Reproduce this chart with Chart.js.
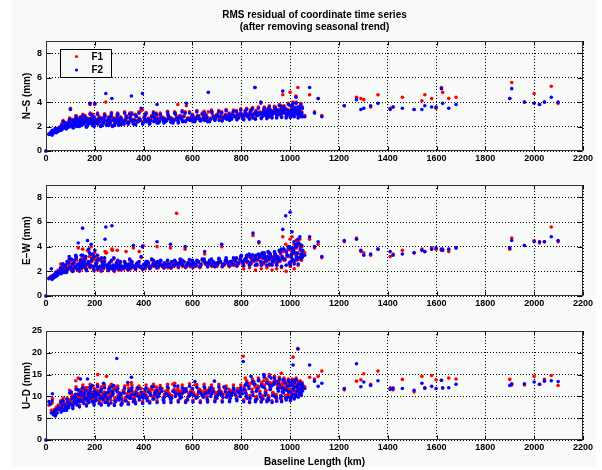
<!DOCTYPE html>
<html>
<head>
<meta charset="utf-8">
<script src="https://cdn.jsdelivr.net/npm/chart.js@4.4.1/dist/chart.umd.min.js"></script>
<style>
  html, body { margin: 0; padding: 0; background: #ffffff; }
  #fig { position: relative; width: 602px; height: 470px; overflow: hidden; }
  #bg { position: absolute; left: 12px; top: 0; width: 584px; height: 466px; background: #f7faf7; }
  .panel { position: absolute; left: 0; width: 602px; }
</style>
</head>
<body>
<div id="fig">
  <div id="bg"></div>
  <div class="panel" style="top:0;height:170px"><canvas id="nsChart"></canvas></div>
  <div class="panel" style="top:175px;height:140px"><canvas id="ewChart"></canvas></div>
  <div class="panel" style="top:321px;height:149px"><canvas id="udChart"></canvas></div>
</div>
<script>
// 基线长度 (km)
const baselineKm = [0,
    12, 18, 22, 26, 30, 34, 38, 42, 46, 50,
    55, 60, 64, 68, 72, 77, 82, 86, 90, 95,
    100, 104, 108, 113, 118, 122, 127, 132, 136, 141,
    146, 150, 155, 160, 165, 170, 175, 180, 185, 190,
    195, 200, 206, 212, 218, 224, 230, 236, 242, 248,
    254, 260, 266, 272, 278, 285, 292, 298, 305, 312,
    320, 328, 335, 343, 350, 358, 366, 374, 382, 390,
    398, 406, 415, 424, 433, 442, 451, 460, 470, 480,
    490, 500, 510, 520, 530, 540, 550, 560, 570, 580,
    590, 600, 610, 620, 630, 640, 650, 660, 670, 680,
    690, 700, 710, 720, 730, 740, 750, 760, 770, 780,
    790, 800, 808, 816, 824, 832, 840, 848, 856, 864,
    872, 880, 886, 892, 898, 904, 910, 916, 922, 928,
    934, 940, 946, 952, 958, 964, 970, 976, 982, 988,
    994, 1000, 1004, 1008, 1012, 1016, 1020, 1024, 1028, 1032,
    1036, 1040, 1044, 1048, 1050, 1052, 25, 40, 130, 175,
    215, 245, 270, 290, 350, 395, 455, 535, 575, 665,
    1060, 1080, 1100, 1115, 1130, 1222, 1272, 1290, 1302, 1330,
    1360, 1410, 1422, 1460, 1508, 1540, 1552, 1580, 1598, 1620,
    1625, 1650, 1680, 1900, 1908, 1960, 2000, 2022, 2042, 2070,
    2098,
    58, 66, 74, 80, 88, 93, 98, 106, 111, 116,
    120, 125, 134, 139, 144, 148, 153, 158, 163, 168,
    173, 178, 183, 188, 193, 198, 203, 209, 221, 227,
    233, 239, 251, 257, 263, 275, 282, 288, 295, 302,
    309, 316, 324, 332, 339, 347, 354, 362, 370, 378,
    386, 402, 411, 420, 429, 438, 447, 456, 465, 475,
    485, 495, 505, 515, 525, 545, 555, 565, 585, 595,
    605, 615, 625, 635, 645, 655, 675, 685, 695, 705,
    715, 725, 735, 745, 755, 765, 775, 785, 795, 804,
    812, 820, 828, 836, 844, 852, 860, 868, 876, 883,
    889, 895, 901, 907, 913, 919, 925, 931, 937, 943,
    949, 955, 961, 967, 973, 979, 985, 991, 997, 1002,
    1006, 1010, 1014, 1018, 1022, 1026, 1030, 1034, 1038, 1042,
    62, 70, 84, 97, 110, 123, 137, 151, 166, 181,
    197, 211, 226, 240, 256, 268, 280, 294, 308, 322,
    337, 352, 367, 381, 396, 410, 425, 440, 455, 468,
    483, 498, 512, 527, 542, 558, 572, 588, 602, 618,
    632, 648, 662, 678, 692, 708, 722, 738, 752, 768,
    782, 798, 810, 822, 834, 846, 858, 870, 882, 894,
    905, 915, 926, 936, 945, 956, 965, 975, 984, 993,
    1001, 1009, 1017, 1025, 1033, 1041, 1046, 1049, 1003, 1011,
    143, 157, 186, 205, 235, 262, 300, 345, 405, 445,
    502, 548, 598, 652, 702, 758, 818, 862, 918, 968];

// N-S 分量 RMS (mm)
const nsF1 = [0,
    1.4, 1.45, 1.5, 1.65, 1.55, 1.7, 1.8, 1.6, 1.85, 1.7,
    1.95, 1.8, 2.2, 1.9, 2.1, 2.35, 2.0, 2.3, 2.1, 2.5,
    3.5, 2.2, 2.6, 2.0, 2.4, 2.7, 2.1, 2.5, 2.3, 2.8,
    2.2, 2.6, 2.4, 2.9, 2.1, 2.7, 2.3, 3.8, 2.5, 3.0,
    2.2, 3.8, 2.6, 2.3, 2.8, 2.1, 2.7, 2.4, 2.9, 2.2,
    2.6, 2.3, 2.9, 2.1, 2.7, 2.4, 3.0, 2.2, 2.8, 2.5,
    2.3, 2.9, 2.4, 3.1, 2.6, 2.3, 3.0, 2.5, 2.7, 3.3,
    2.4, 3.0, 2.6, 2.3, 2.9, 2.5, 3.1, 2.4, 2.8, 2.6,
    2.5, 3.0, 2.7, 2.4, 3.1, 3.8, 2.9, 2.5, 3.2, 2.7,
    2.6, 3.0, 2.5, 2.9, 2.7, 3.1, 2.6, 2.8, 2.5, 3.2,
    2.7, 3.0, 2.6, 3.2, 2.8, 2.7, 3.1, 2.7, 2.9, 3.3,
    2.8, 3.1, 2.7, 3.3, 2.9, 3.0, 3.4, 2.8, 5.2, 3.0,
    3.1, 3.9, 2.9, 3.4, 3.0, 3.2, 3.5, 2.9, 3.3, 3.1,
    3.2, 3.6, 3.0, 3.4, 3.1, 3.7, 4.6, 3.2, 3.5, 3.0,
    3.3, 4.8, 2.9, 3.5, 4.0, 3.1, 3.6, 4.5, 3.2, 5.2,
    3.4, 3.0, 3.9, 3.2, 3.6, 2.9, 1.35, 1.6, 2.7, 2.4,
    2.5, 4.0, 2.8, 2.7, 3.1, 3.4, 2.9, 2.8, 3.7, 3.2,
    2.9, 4.6, 3.2, 4.3, 2.9, 3.7, 4.4, 4.3, 4.2, 3.6,
    4.6, 3.5, 3.6, 4.4, 3.4, 4.1, 4.6, 4.3, 3.5, 5.2,
    4.8, 4.3, 4.4, 4.3, 5.6, 4.0, 4.7, 3.8, 4.0, 5.3,
    3.9,
    1.9, 2.1, 2.0, 2.3, 2.2, 2.05, 2.4, 2.1, 2.3, 2.5,
    2.2, 2.4, 2.6, 2.3, 2.5, 2.7, 2.3, 2.6, 2.6, 2.4,
    2.6, 2.4, 2.7, 2.3, 2.5, 2.8, 2.4, 2.6, 2.5, 2.7,
    2.3, 2.6, 2.5, 2.8, 2.4, 2.6, 2.5, 2.7, 2.4, 2.6,
    2.7, 2.5, 2.6, 2.8, 2.4, 2.7, 2.5, 2.6, 2.9, 2.5,
    2.6, 2.8, 2.5, 2.7, 2.6, 2.9, 2.6, 2.7, 2.5, 2.8,
    2.7, 2.6, 2.8, 2.7, 2.6, 2.8, 2.7, 2.9, 2.7, 2.8,
    2.8, 2.7, 2.9, 2.6, 2.8, 3.0, 2.7, 2.9, 2.8, 2.9,
    2.9, 2.8, 3.0, 2.9, 2.8, 3.1, 2.9, 3.0, 3.1, 2.9,
    3.0, 3.1, 2.9, 3.2, 3.0, 3.1, 3.3, 3.0, 3.2, 3.1,
    3.2, 3.1, 3.3, 3.0, 3.2, 3.4, 3.1, 3.3, 3.2, 3.4,
    3.3, 3.1, 3.4, 3.2, 3.3, 3.5, 3.1, 3.4, 3.2, 3.3,
    3.4, 3.1, 3.3, 3.5, 3.2, 3.4, 3.1, 3.3, 3.5, 3.2,
    1.8, 2.5, 1.9, 2.7, 2.0, 2.9, 2.1, 3.0, 2.05, 3.1,
    2.1, 3.1, 2.15, 3.05, 2.2, 3.15, 2.2, 3.1, 2.25, 3.2,
    2.3, 3.1, 2.25, 3.2, 2.3, 3.15, 2.35, 3.2, 2.4, 3.1,
    2.4, 3.25, 2.45, 3.2, 2.4, 3.3, 2.5, 3.2, 2.5, 3.3,
    2.55, 3.25, 2.5, 3.35, 2.6, 3.3, 2.55, 3.4, 2.6, 3.35,
    2.65, 3.45, 2.65, 3.5, 2.7, 3.55, 2.7, 3.6, 2.75, 3.6,
    2.75, 3.7, 2.8, 3.65, 2.8, 3.8, 2.85, 3.7, 2.8, 3.9,
    2.85, 3.8, 2.9, 4.0, 2.8, 3.7, 2.9, 3.6, 3.1, 3.4,
    2.5, 2.6, 2.7, 2.5, 2.7, 2.6, 2.7, 2.8, 2.7, 2.8,
    2.8, 2.9, 2.8, 2.9, 3.0, 3.0, 3.1, 3.2, 3.3, 3.4];
const nsF2 = [0,
    1.35, 1.5, 1.4, 1.7, 1.45, 1.6, 1.85, 1.5, 1.75, 1.6,
    1.9, 1.7, 2.1, 1.8, 2.0, 2.3, 1.85, 2.2, 2.0, 2.4,
    3.4, 2.1, 2.5, 1.9, 2.3, 2.6, 2.0, 2.4, 2.2, 2.7,
    2.1, 2.5, 2.3, 2.8, 2.0, 2.6, 2.2, 3.9, 2.4, 2.9,
    2.1, 3.9, 2.5, 2.2, 2.7, 2.0, 2.6, 2.3, 2.8, 2.1,
    2.5, 2.2, 2.8, 2.0, 2.6, 2.3, 2.9, 2.1, 2.7, 2.4,
    2.2, 2.8, 2.3, 3.0, 2.5, 2.2, 2.9, 2.4, 2.6, 3.5,
    2.3, 2.9, 2.5, 2.2, 2.8, 2.4, 3.0, 2.3, 2.7, 2.5,
    2.4, 2.9, 2.6, 2.3, 3.0, 2.5, 2.8, 2.4, 3.1, 2.6,
    2.5, 2.9, 2.4, 2.8, 2.6, 3.0, 2.5, 2.7, 2.4, 3.1,
    2.6, 2.9, 2.5, 3.1, 2.7, 2.6, 3.0, 2.6, 2.8, 3.2,
    2.7, 3.0, 2.6, 3.2, 2.8, 2.9, 3.3, 2.7, 5.2, 2.9,
    3.0, 4.0, 2.8, 3.3, 2.9, 3.1, 3.4, 2.8, 3.2, 3.0,
    3.1, 3.5, 2.9, 3.3, 3.0, 3.6, 4.9, 3.1, 3.4, 2.9,
    3.2, 3.7, 2.8, 3.4, 3.9, 3.0, 3.5, 4.4, 3.1, 3.6,
    3.3, 2.9, 3.8, 3.1, 3.5, 2.8, 1.3, 1.55, 2.6, 2.3,
    2.4, 4.7, 4.3, 2.6, 4.5, 4.7, 3.8, 2.7, 3.9, 4.8,
    2.8, 5.2, 3.1, 4.3, 2.8, 3.7, 4.2, 3.4, 3.5, 3.7,
    3.9, 3.4, 3.6, 3.5, 3.4, 3.4, 3.7, 3.6, 3.6, 5.1,
    3.9, 3.5, 3.8, 4.3, 5.1, 4.0, 3.9, 3.8, 4.0, 4.4,
    4.0,
    1.8, 2.0, 1.9, 2.2, 2.1, 1.95, 2.3, 2.0, 2.2, 2.4,
    2.1, 2.3, 2.5, 2.2, 2.4, 2.6, 2.2, 2.4, 2.5, 2.3,
    2.5, 2.3, 2.6, 2.2, 2.4, 2.7, 2.3, 2.5, 2.4, 2.6,
    2.2, 2.5, 2.4, 2.7, 2.3, 2.5, 2.4, 2.6, 2.3, 2.5,
    2.6, 2.4, 2.5, 2.7, 2.3, 2.6, 2.4, 2.5, 2.8, 2.4,
    2.5, 2.7, 2.4, 2.6, 2.5, 2.8, 2.5, 2.6, 2.4, 2.7,
    2.6, 2.5, 2.7, 2.6, 2.5, 2.7, 2.6, 2.8, 2.6, 2.7,
    2.7, 2.6, 2.8, 2.5, 2.7, 2.9, 2.6, 2.8, 2.7, 2.8,
    2.8, 2.7, 2.9, 2.8, 2.7, 3.0, 2.8, 2.9, 3.0, 2.8,
    2.9, 3.0, 2.8, 3.1, 2.9, 3.0, 3.2, 2.9, 3.1, 3.0,
    3.1, 3.0, 3.2, 2.9, 3.1, 3.3, 3.0, 3.2, 3.1, 3.3,
    3.2, 3.0, 3.3, 3.1, 3.2, 3.4, 3.0, 3.3, 3.1, 3.2,
    3.3, 3.0, 3.2, 3.4, 3.1, 3.3, 3.0, 3.2, 3.4, 3.1,
    1.7, 2.4, 1.8, 2.6, 1.9, 2.8, 2.0, 2.9, 1.95, 3.0,
    2.0, 3.0, 2.05, 2.95, 2.1, 3.05, 2.1, 3.0, 2.15, 3.1,
    2.2, 3.0, 2.15, 3.1, 2.2, 3.05, 2.25, 3.1, 2.3, 3.0,
    2.3, 3.15, 2.35, 3.1, 2.3, 3.2, 2.4, 3.1, 2.4, 3.2,
    2.45, 3.15, 2.4, 3.25, 2.5, 3.2, 2.45, 3.3, 2.5, 3.25,
    2.55, 3.35, 2.55, 3.4, 2.6, 3.45, 2.6, 3.5, 2.65, 3.5,
    2.65, 3.6, 2.7, 3.55, 2.7, 3.7, 2.75, 3.6, 2.7, 3.8,
    2.75, 3.7, 2.8, 3.9, 2.7, 3.6, 2.8, 3.5, 3.0, 3.3,
    2.4, 2.5, 2.6, 2.4, 2.6, 2.5, 2.6, 2.7, 2.6, 2.7,
    2.7, 2.8, 2.7, 2.8, 2.9, 2.9, 3.0, 3.1, 3.2, 3.3];

// E-W 分量 RMS (mm)
const ewF1 = [0,
    1.45, 1.55, 1.6, 1.65, 1.5, 1.75, 1.6, 1.85, 1.7, 2.1,
    1.85, 2.6, 1.95, 2.5, 2.05, 2.3, 2.15, 2.6, 2.25, 3.0,
    2.2, 2.9, 2.0, 2.6, 2.3, 3.1, 2.1, 3.9, 2.4, 2.8,
    2.2, 3.8, 2.5, 3.0, 2.1, 3.7, 2.6, 2.3, 4.0, 3.2,
    2.2, 3.5, 2.4, 2.1, 2.9, 2.3, 2.7, 2.2, 3.6, 3.5,
    2.1, 2.6, 2.3, 3.7, 3.0, 2.2, 3.7, 2.1, 2.7, 2.3,
    2.2, 3.6, 2.1, 2.9, 2.3, 3.9, 2.2, 2.6, 3.6, 3.1,
    4.1, 2.2, 2.7, 2.3, 2.9, 2.4, 2.6, 2.3, 2.8, 2.4,
    2.5, 2.3, 3.9, 2.4, 2.7, 2.5, 2.9, 2.4, 3.8, 2.6,
    2.4, 2.8, 2.5, 2.7, 2.3, 2.9, 3.4, 2.5, 2.8, 2.4,
    2.6, 2.4, 2.9, 4.0, 2.5, 2.8, 2.4, 2.7, 2.5, 3.0,
    2.6, 3.2, 2.5, 2.9, 2.7, 3.3, 2.6, 4.9, 3.1, 2.5,
    4.3, 2.7, 3.4, 2.6, 3.0, 2.8, 3.5, 2.5, 3.1, 2.7,
    2.9, 3.3, 2.6, 3.0, 2.8, 3.7, 4.8, 2.9, 4.2, 3.2,
    3.9, 4.6, 3.1, 4.8, 2.8, 4.2, 3.4, 4.5, 2.9, 4.4,
    3.0, 4.6, 3.3, 4.0, 3.1, 3.6, 1.4, 1.95, 2.5, 3.6,
    2.2, 3.5, 3.8, 2.4, 2.7, 4.0, 4.0, 6.7, 2.4, 2.6,
    3.5, 4.6, 3.9, 4.2, 3.1, 4.4, 4.7, 3.6, 3.5, 3.3,
    3.8, 3.2, 3.4, 3.7, 3.5, 3.8, 3.6, 3.9, 3.8, 3.7,
    3.8, 3.6, 3.9, 3.8, 4.7, 4.1, 4.5, 4.3, 4.4, 5.6,
    4.4,
    2.1, 2.1, 2.0, 2.4, 2.2, 2.5, 2.2, 2.5, 2.3, 2.7,
    2.3, 2.9, 2.5, 2.2, 3.0, 2.4, 2.7, 2.3, 3.0, 2.5,
    2.6, 3.2, 2.4, 2.8, 2.3, 3.0, 2.5, 2.7, 2.3, 2.9,
    2.4, 2.7, 2.3, 2.5, 2.2, 2.4, 2.3, 2.6, 2.2, 2.4,
    2.3, 2.2, 2.4, 2.3, 2.5, 2.2, 2.4, 2.3, 2.5, 2.4,
    2.3, 2.5, 2.4, 2.6, 2.3, 2.5, 2.4, 2.7, 2.5, 2.4,
    2.6, 2.4, 2.5, 2.7, 2.4, 2.6, 2.5, 2.7, 2.6, 2.5,
    2.6, 2.4, 2.7, 2.5, 2.8, 2.6, 2.5, 2.7, 2.4, 2.6,
    2.7, 2.5, 2.8, 2.6, 2.7, 2.5, 2.8, 2.6, 2.9, 2.7,
    2.8, 3.0, 2.7, 3.1, 2.9, 2.8, 3.2, 2.9, 3.1, 3.3,
    3.0, 3.2, 2.8, 3.1, 2.9, 3.3, 3.0, 2.7, 3.2, 2.9,
    3.1, 2.8, 3.4, 3.0, 3.6, 2.9, 3.5, 3.2, 2.6, 3.7,
    3.3, 2.9, 3.6, 2.8, 3.9, 3.1, 3.4, 4.1, 3.0, 3.7,
    1.85, 2.5, 1.95, 2.8, 2.05, 3.0, 2.0, 3.1, 2.05, 3.2,
    2.05, 3.1, 2.0, 2.9, 2.05, 2.8, 2.0, 2.8, 2.1, 2.7,
    2.1, 2.7, 2.15, 2.7, 2.15, 2.7, 2.2, 2.8, 2.25, 2.75,
    2.25, 2.8, 2.25, 2.8, 2.3, 2.8, 2.3, 2.85, 2.3, 2.8,
    2.35, 2.9, 2.35, 2.9, 2.35, 2.95, 2.35, 3.0, 2.4, 3.0,
    2.4, 3.1, 2.2, 3.2, 2.3, 3.25, 2.1, 3.3, 2.2, 3.4,
    2.3, 3.4, 2.1, 3.5, 2.2, 3.6, 2.3, 3.7, 2.0, 3.8,
    2.4, 3.8, 2.2, 3.9, 2.5, 4.0, 2.9, 3.3, 2.7, 3.5,
    2.6, 2.7, 2.8, 2.6, 2.5, 2.3, 2.3, 2.4, 2.4, 2.5,
    2.5, 2.6, 2.5, 2.6, 2.6, 2.7, 2.8, 2.9, 3.0, 3.1];
const ewF2 = [0,
    1.4, 1.5, 2.2, 1.6, 1.45, 1.7, 1.55, 1.8, 1.65, 2.0,
    1.8, 2.3, 1.9, 2.6, 2.0, 2.4, 2.1, 2.8, 2.2, 3.2,
    2.3, 3.0, 2.1, 2.7, 2.4, 3.3, 2.2, 4.3, 2.5, 2.9,
    2.3, 5.5, 2.6, 3.1, 2.2, 4.5, 2.7, 2.4, 4.2, 3.4,
    2.3, 3.7, 2.5, 2.2, 3.0, 2.4, 2.8, 2.3, 4.6, 2.5,
    2.2, 2.7, 2.4, 2.2, 3.1, 2.3, 2.6, 2.2, 2.8, 2.4,
    2.3, 2.6, 2.2, 3.0, 2.4, 4.1, 2.3, 2.7, 2.4, 3.2,
    2.5, 2.3, 2.8, 2.4, 3.0, 2.5, 2.7, 2.4, 2.9, 2.5,
    2.6, 2.4, 4.2, 2.5, 2.8, 2.6, 3.0, 2.5, 4.0, 2.7,
    2.5, 2.9, 2.6, 2.8, 2.4, 3.0, 3.6, 2.6, 2.9, 2.5,
    2.7, 2.5, 3.0, 4.2, 2.6, 2.9, 2.5, 2.8, 2.6, 3.1,
    2.7, 3.3, 2.6, 3.0, 2.8, 3.4, 2.7, 5.1, 3.2, 2.6,
    4.4, 2.8, 3.5, 2.7, 3.1, 2.9, 3.6, 2.6, 3.2, 2.8,
    3.0, 3.4, 2.7, 3.1, 2.9, 3.8, 5.4, 3.0, 6.5, 3.3,
    4.0, 6.8, 3.2, 5.2, 2.9, 4.4, 3.5, 4.2, 3.0, 4.6,
    3.1, 4.8, 3.4, 4.1, 3.2, 3.7, 1.35, 1.9, 2.6, 3.8,
    2.3, 5.6, 5.7, 2.5, 2.8, 4.0, 4.4, 2.6, 2.5, 2.7,
    3.3, 4.8, 4.0, 4.4, 3.2, 4.5, 4.6, 3.7, 3.3, 3.4,
    3.8, 3.6, 3.3, 3.4, 3.5, 3.7, 3.6, 3.8, 3.9, 3.8,
    3.7, 3.8, 3.9, 3.9, 4.5, 4.1, 4.4, 4.4, 4.4, 4.8,
    4.5,
    2.0, 2.2, 1.9, 2.5, 2.1, 2.7, 2.3, 2.6, 2.2, 2.9,
    2.4, 3.1, 2.6, 2.3, 3.3, 2.5, 2.9, 2.4, 3.2, 2.6,
    2.8, 3.5, 2.5, 3.0, 2.4, 3.2, 2.6, 2.9, 2.4, 3.1,
    2.5, 2.8, 2.4, 2.6, 2.3, 2.5, 2.4, 2.7, 2.3, 2.5,
    2.4, 2.3, 2.5, 2.4, 2.6, 2.3, 2.5, 2.4, 2.6, 2.5,
    2.4, 2.6, 2.5, 2.7, 2.4, 2.6, 2.5, 2.8, 2.6, 2.5,
    2.7, 2.5, 2.6, 2.8, 2.5, 2.7, 2.6, 2.8, 2.7, 2.6,
    2.7, 2.5, 2.8, 2.6, 2.9, 2.7, 2.6, 2.8, 2.5, 2.7,
    2.8, 2.6, 2.9, 2.7, 2.8, 2.6, 2.9, 2.7, 3.0, 2.8,
    2.9, 3.1, 2.8, 3.2, 3.0, 2.9, 3.3, 3.0, 3.2, 3.4,
    3.1, 3.3, 2.9, 3.2, 3.0, 3.4, 3.1, 2.8, 3.3, 3.0,
    3.2, 2.9, 3.5, 3.1, 3.8, 3.0, 3.6, 3.3, 2.7, 3.9,
    3.4, 3.0, 3.7, 2.9, 4.0, 3.2, 3.5, 4.3, 3.1, 3.8,
    1.8, 2.6, 1.9, 3.0, 2.0, 3.2, 2.05, 3.3, 2.1, 3.4,
    2.1, 3.3, 2.1, 3.1, 2.1, 2.9, 2.1, 2.9, 2.15, 2.8,
    2.15, 2.8, 2.2, 2.8, 2.2, 2.8, 2.25, 2.9, 2.3, 2.85,
    2.3, 2.9, 2.3, 2.9, 2.35, 2.9, 2.35, 2.95, 2.35, 2.9,
    2.4, 3.0, 2.4, 3.0, 2.4, 3.05, 2.4, 3.1, 2.45, 3.1,
    2.45, 3.2, 2.45, 3.3, 2.5, 3.35, 2.5, 3.4, 2.5, 3.5,
    2.5, 3.5, 2.5, 3.6, 2.5, 3.7, 2.4, 3.8, 2.5, 3.9,
    2.5, 3.9, 2.6, 4.0, 2.6, 4.2, 3.0, 3.4, 2.8, 3.6,
    2.7, 2.8, 2.9, 2.7, 2.6, 2.4, 2.4, 2.5, 2.5, 2.6,
    2.6, 2.7, 2.6, 2.7, 2.7, 2.8, 2.9, 3.0, 3.1, 3.2];

// U-D 分量 RMS (mm)
const udF1 = [0,
    8.0, 8.5, 6.8, 9.5, 6.5, 7.0, 6.2, 7.5, 6.8, 8.0,
    7.5, 9.0, 7.8, 8.6, 7.4, 8.5, 8.0, 9.6, 8.3, 9.2,
    8.8, 10.5, 8.4, 10.2, 9.0, 13.6, 8.6, 14.2, 9.4, 11.0,
    9.6, 11.5, 9.0, 11.4, 10.0, 12.0, 9.2, 11.8, 10.4, 12.2,
    9.4, 11.0, 9.8, 15.0, 9.0, 11.6, 10.2, 12.6, 9.2, 14.6,
    10.0, 12.2, 9.1, 10.8, 11.8, 9.4, 11.6, 9.8, 10.2, 9.0,
    11.4, 9.6, 12.6, 10.2, 11.8, 9.4, 11.0, 11.6, 9.8, 11.8,
    10.2, 11.0, 9.6, 11.4, 11.6, 10.0, 12.2, 10.6, 11.2, 9.8,
    11.2, 11.6, 10.0, 12.8, 10.6, 11.8, 10.2, 11.4, 11.0, 9.8,
    11.0, 11.2, 12.6, 10.4, 11.6, 10.8, 11.4, 10.0, 12.0, 11.2,
    11.0, 10.2, 11.8, 11.0, 12.0, 10.4, 11.6, 10.8, 11.0, 10.0,
    11.4, 10.8, 19.2, 14.2, 10.2, 12.4, 13.0, 10.8, 12.2, 10.0,
    12.2, 10.4, 12.8, 13.6, 11.0, 14.0, 10.2, 13.2, 12.6, 10.8,
    13.4, 10.4, 12.8, 11.8, 12.6, 15.3, 13.2, 12.2, 10.2, 13.0,
    11.6, 12.6, 10.4, 13.2, 19.0, 12.0, 13.0, 11.0, 12.8, 20.8,
    12.4, 12.4, 11.2, 13.0, 11.8, 12.6, 8.5, 6.5, 9.8, 10.6,
    11.0, 10.4, 10.6, 12.0, 13.2, 10.8, 12.0, 11.2, 11.8, 11.4,
    12.2, 14.4, 14.0, 14.6, 15.8, 11.5, 13.5, 13.8, 15.2, 12.8,
    15.8, 12.0, 11.5, 13.9, 11.0, 14.6, 11.8, 14.8, 13.8, 13.7,
    12.0, 14.2, 14.0, 13.9, 12.6, 12.6, 14.6, 12.8, 13.9, 14.8,
    12.5,
    7.8, 8.4, 7.4, 8.2, 9.2, 8.0, 8.8, 9.8, 8.6, 9.6,
    10.4, 9.2, 11.0, 9.8, 11.6, 9.4, 10.8, 10.2, 12.0, 9.6,
    11.2, 10.0, 12.4, 9.4, 10.6, 11.8, 9.6, 11.4, 10.2, 12.2,
    9.8, 11.0, 9.2, 11.6, 10.4, 11.2, 9.6, 12.0, 10.2, 10.8,
    10.0, 11.4, 9.6, 10.6, 11.8, 10.2, 11.0, 9.8, 11.4, 10.6,
    10.4, 11.0, 10.2, 11.6, 10.8, 10.0, 11.4, 10.4, 11.2, 11.8,
    10.4, 11.2, 10.6, 10.2, 11.6, 11.0, 10.4, 11.8, 10.6, 11.4,
    10.8, 10.2, 11.6, 11.2, 10.4, 11.4, 10.6, 11.8, 10.4, 11.0,
    11.2, 10.4, 11.6, 10.8, 10.2, 11.4, 11.0, 11.8, 10.6, 11.2,
    12.2, 10.6, 13.0, 10.2, 11.6, 13.4, 9.8, 12.4, 11.2, 13.2,
    10.0, 12.6, 11.4, 13.6, 9.8, 12.2, 13.0, 10.8, 13.8, 10.4,
    12.4, 13.4, 10.2, 12.6, 11.4, 13.6, 12.0, 10.4, 13.0, 11.6,
    13.2, 11.0, 12.4, 13.8, 10.6, 12.8, 11.8, 13.4, 11.2, 12.2,
    6.8, 9.6, 7.2, 11.4, 7.6, 12.2, 8.0, 12.6, 8.2, 12.8,
    8.4, 12.8, 8.4, 12.6, 8.4, 12.8, 8.3, 12.4, 8.4, 12.4,
    8.6, 12.6, 8.7, 12.4, 8.8, 12.6, 8.9, 12.8, 9.0, 12.5,
    9.0, 12.8, 9.0, 13.0, 9.1, 12.6, 9.0, 12.9, 9.1, 12.7,
    9.0, 12.8, 9.1, 12.6, 9.2, 12.8, 9.1, 12.4, 9.2, 12.6,
    9.4, 12.6, 9.2, 13.6, 9.0, 14.0, 9.2, 14.2, 9.1, 14.8,
    9.2, 15.0, 9.0, 14.6, 9.3, 14.4, 9.2, 14.2, 9.6, 14.0,
    9.4, 14.0, 9.8, 14.2, 10.2, 13.6, 10.6, 13.2, 10.0, 12.8,
    10.8, 11.2, 11.0, 10.6, 10.8, 10.4, 10.2, 10.6, 10.8, 11.0,
    10.8, 11.2, 11.0, 11.2, 10.8, 11.2, 11.4, 11.8, 12.2, 11.6];
const udF2 = [0,
    8.8, 8.2, 6.2, 10.6, 5.8, 6.5, 5.5, 7.0, 6.2, 7.5,
    7.0, 8.6, 7.2, 9.0, 6.8, 8.0, 7.4, 9.3, 7.8, 8.5,
    8.2, 11.0, 7.8, 9.8, 8.5, 10.5, 8.0, 11.5, 8.8, 14.0,
    9.0, 12.0, 8.4, 10.8, 9.5, 14.0, 8.6, 11.2, 9.8, 12.5,
    8.8, 10.5, 9.2, 12.2, 8.4, 11.0, 9.6, 13.0, 8.6, 10.8,
    9.4, 11.8, 8.5, 10.2, 12.5, 8.8, 11.0, 9.2, 10.6, 8.4,
    10.8, 9.0, 13.2, 9.6, 11.4, 8.8, 10.4, 12.0, 9.2, 11.0,
    9.6, 11.5, 9.0, 10.8, 12.2, 9.4, 11.0, 10.0, 11.8, 9.2,
    10.6, 12.0, 9.4, 11.2, 10.0, 12.4, 9.6, 10.8, 11.6, 9.2,
    10.4, 11.8, 13.4, 9.8, 11.0, 10.2, 12.0, 9.4, 11.4, 10.6,
    13.5, 9.6, 11.2, 10.4, 12.2, 9.8, 11.0, 10.2, 11.6, 9.4,
    10.8, 11.4, 18.0, 12.6, 9.6, 11.8, 14.6, 10.2, 12.8, 9.4,
    13.8, 9.8, 12.2, 15.0, 10.4, 13.2, 9.6, 12.6, 14.2, 10.2,
    12.8, 9.8, 13.4, 11.2, 12.0, 10.0, 13.8, 11.6, 9.6, 12.4,
    11.0, 13.2, 9.8, 12.6, 17.2, 11.4, 13.6, 10.4, 12.2, 21.0,
    11.8, 13.0, 10.6, 12.4, 11.2, 12.0, 9.0, 5.8, 9.2, 10.0,
    10.4, 9.8, 11.2, 18.7, 14.4, 10.2, 11.4, 10.6, 11.2, 10.8,
    11.8, 17.2, 13.5, 12.3, 13.0, 11.8, 17.5, 12.2, 13.3, 12.5,
    13.6, 11.6, 11.9, 11.8, 11.4, 13.0, 12.0, 12.3, 11.8, 13.7,
    11.9, 12.0, 12.8, 12.5, 12.9, 12.9, 13.3, 12.8, 13.5, 13.6,
    13.4,
    7.2, 8.0, 6.8, 7.6, 8.8, 7.4, 8.2, 9.4, 8.0, 9.0,
    9.8, 8.6, 10.4, 9.2, 11.0, 8.8, 10.2, 9.6, 11.4, 9.0,
    10.6, 9.4, 11.8, 8.8, 10.0, 11.2, 9.0, 10.8, 9.6, 11.6,
    9.2, 10.4, 8.6, 11.0, 9.8, 10.6, 9.0, 11.4, 9.6, 10.2,
    9.4, 10.8, 9.0, 10.0, 11.2, 9.6, 10.4, 9.2, 10.8, 10.0,
    9.8, 10.4, 9.6, 11.0, 10.2, 9.4, 10.8, 9.8, 10.6, 11.2,
    9.8, 10.6, 10.0, 9.6, 11.0, 10.4, 9.8, 11.2, 10.0, 10.8,
    10.2, 9.6, 11.0, 10.6, 9.8, 10.8, 10.0, 11.2, 9.8, 10.4,
    10.6, 9.8, 11.0, 10.2, 9.6, 10.8, 10.4, 11.2, 10.0, 10.6,
    11.6, 10.0, 12.4, 9.6, 11.0, 12.8, 9.2, 11.8, 10.6, 12.6,
    9.4, 12.0, 10.8, 13.0, 9.2, 11.6, 12.4, 10.2, 13.2, 9.8,
    11.8, 12.8, 9.6, 12.0, 10.8, 13.0, 11.4, 9.8, 12.4, 11.0,
    12.6, 10.4, 11.8, 13.2, 10.0, 12.2, 11.2, 12.8, 10.6, 11.6,
    6.4, 9.0, 6.8, 10.8, 7.2, 11.6, 7.6, 12.0, 7.8, 12.2,
    8.0, 12.4, 8.0, 12.0, 8.0, 12.2, 7.9, 11.8, 8.0, 11.9,
    8.2, 12.0, 8.3, 11.8, 8.4, 12.0, 8.5, 12.2, 8.6, 11.9,
    8.6, 12.2, 8.6, 12.4, 8.7, 12.0, 8.6, 12.3, 8.7, 12.1,
    8.6, 12.2, 8.7, 12.0, 8.8, 12.2, 8.7, 11.8, 8.8, 12.0,
    9.0, 12.0, 8.8, 13.0, 8.6, 13.4, 8.8, 13.6, 8.7, 14.4,
    8.8, 14.6, 8.6, 14.2, 8.9, 14.0, 8.8, 13.8, 9.2, 13.6,
    9.0, 13.6, 9.4, 13.8, 9.8, 13.2, 10.2, 12.8, 9.6, 12.4,
    10.2, 10.6, 10.4, 10.0, 10.2, 9.8, 9.6, 10.0, 10.2, 10.4,
    10.2, 10.6, 10.4, 10.6, 10.2, 10.6, 10.8, 11.2, 11.6, 11.0];

// 刻度与文字
const xTicks = [0, 200, 400, 600, 800, 1000, 1200, 1400, 1600, 1800, 2000, 2200];
const nsTicks = [0, 2, 4, 6, 8];
const ewTicks = [0, 2, 4, 6, 8];
const udTicks = [0, 5, 10, 15, 20, 25];
const seriesNames = ['F1', 'F2'];
const titleLines = ['RMS residual of coordinate time series', '(after removing seasonal trend)'];
const xAxisLabel = 'Baseline Length (km)';
const panelLabels = ['N\u2013S (mm)', 'E\u2013W (mm)', 'U\u2013D (mm)'];

const FONT = "'Liberation Sans', Arial, Helvetica, sans-serif";
const BG = '#f7faf7';

// 外框和向内的刻度线 (MATLAB 风格)
const matlabAxes = {
    id: 'matlabAxes',
    afterDraw(chart) {
        const { ctx, chartArea: a, scales: { x, y } } = chart;
        const l = Math.round(a.left) + 0.5, r = Math.round(a.right) - 0.5;
        const t = Math.round(a.top) + 0.5, b = Math.round(a.bottom) - 0.5;
        ctx.save();
        ctx.strokeStyle = '#000';
        ctx.lineWidth = 1;
        ctx.beginPath();
        x.ticks.forEach(tk => {
            const px = Math.round(x.getPixelForValue(tk.value)) + 0.5;
            ctx.moveTo(px, b); ctx.lineTo(px, b - 4);
            ctx.moveTo(px, t); ctx.lineTo(px, t + 4);
        });
        y.ticks.forEach(tk => {
            const py = Math.round(y.getPixelForValue(tk.value)) + 0.5;
            ctx.moveTo(l, py); ctx.lineTo(l + 5, py);
            ctx.moveTo(r, py); ctx.lineTo(r - 5, py);
        });
        ctx.stroke();
        ctx.strokeStyle = '#333';
        ctx.strokeRect(l, t, r - l, b - t);
        ctx.restore();
    }
};

// 图内图例框
const boxLegend = {
    id: 'boxLegend',
    afterDraw(chart) {
        const { ctx, chartArea: a } = chart;
        const x0 = Math.round(a.left) + 14.5, y0 = Math.round(a.top) + 8.5;
        ctx.save();
        ctx.fillStyle = BG;
        ctx.fillRect(x0, y0, 51, 28);
        ctx.strokeStyle = '#000';
        ctx.lineWidth = 1;
        ctx.strokeRect(x0, y0, 51, 28);
        chart.data.datasets.forEach((ds, i) => {
            const cy = y0 + 7 + i * 13.5;
            ctx.fillStyle = ds.backgroundColor;
            ctx.beginPath();
            ctx.arc(x0 + 16, cy, 1.6, 0, Math.PI * 2);
            ctx.fill();
            ctx.fillStyle = '#000';
            ctx.font = 'bold 10px ' + FONT;
            ctx.textBaseline = 'middle';
            ctx.fillText(ds.label, x0 + 31, cy + 0.5);
        });
        ctx.restore();
    }
};

function toPoints(values) {
    return baselineKm.map((x, i) => ({ x: x, y: values[i] }));
}

function tickFont() {
    return { family: FONT, size: 9, weight: 'bold' };
}

// 创建一个子图
function createPanel(canvasId, cfg) {
    const ctx = document.getElementById(canvasId).getContext('2d');
    const gridOpts = { color: '#000', lineWidth: 1, drawTicks: false };
    const borderOpts = { display: false, dash: [1, 2] };

    return new Chart(ctx, {
        type: 'scatter',
        data: {
            datasets: [
                {
                    label: seriesNames[0],
                    data: toPoints(cfg.f1),
                    backgroundColor: '#ff0000',
                    pointRadius: 1.8,
                    pointBorderWidth: 0,
                    order: 2,
                    clip: false
                },
                {
                    label: seriesNames[1],
                    data: toPoints(cfg.f2),
                    backgroundColor: '#0000ff',
                    pointRadius: 1.8,
                    pointBorderWidth: 0,
                    order: 1,
                    clip: false
                }
            ]
        },
        options: {
            responsive: true,
            maintainAspectRatio: false,
            animation: false,
            events: [],
            layout: { padding: { top: cfg.padTop, right: 19, left: 0, bottom: 0 } },
            plugins: {
                legend: { display: false },
                tooltip: { enabled: false },
                title: cfg.title ? {
                    display: true,
                    text: cfg.title,
                    color: '#000',
                    fullSize: false,
                    font: { family: FONT, size: 10, weight: 'bold', lineHeight: 1.2 },
                    padding: { top: 9, bottom: 8 }
                } : { display: false }
            },
            scales: {
                x: {
                    type: 'linear',
                    min: 0,
                    max: 2200,
                    afterBuildTicks: s => { s.ticks = xTicks.map(v => ({ value: v })); },
                    afterFit: s => { s.height = cfg.xHeight; },
                    grid: gridOpts,
                    border: borderOpts,
                    ticks: {
                        color: '#000', padding: 2, font: tickFont(), maxRotation: 0, autoSkip: false,
                        callback: v => String(v)
                    },
                    title: cfg.xTitle ? {
                        display: true,
                        text: cfg.xTitle,
                        color: '#000',
                        font: { family: FONT, size: 10, weight: 'bold', lineHeight: 1.2 },
                        padding: { top: 0, bottom: 1.5 }
                    } : { display: false }
                },
                y: {
                    min: 0,
                    max: cfg.yMax,
                    afterBuildTicks: s => { s.ticks = cfg.yTicks.map(v => ({ value: v })); },
                    afterFit: s => { s.width = 46; },
                    grid: gridOpts,
                    border: borderOpts,
                    ticks: { color: '#000', padding: 4, font: tickFont(), callback: v => String(v) },
                    title: {
                        display: true,
                        text: cfg.yLabel,
                        color: '#000',
                        font: { family: FONT, size: 10, weight: 'bold', lineHeight: 1.2 },
                        padding: { top: 21, bottom: 0 }
                    }
                }
            }
        },
        plugins: cfg.legend ? [matlabAxes, boxLegend] : [matlabAxes]
    });
}

const nsChart = createPanel('nsChart', {
    f1: nsF1, f2: nsF2, yMax: 9, yTicks: nsTicks, yLabel: panelLabels[0],
    padTop: 0, xHeight: 19, title: titleLines, legend: true
});
const ewChart = createPanel('ewChart', {
    f1: ewF1, f2: ewF2, yMax: 9, yTicks: ewTicks, yLabel: panelLabels[1],
    padTop: 10, xHeight: 19
});
const udChart = createPanel('udChart', {
    f1: udF1, f2: udF2, yMax: 25, yTicks: udTicks, yLabel: panelLabels[2],
    padTop: 10, xHeight: 30, xTitle: xAxisLabel
});
</script>
</body>
</html>
